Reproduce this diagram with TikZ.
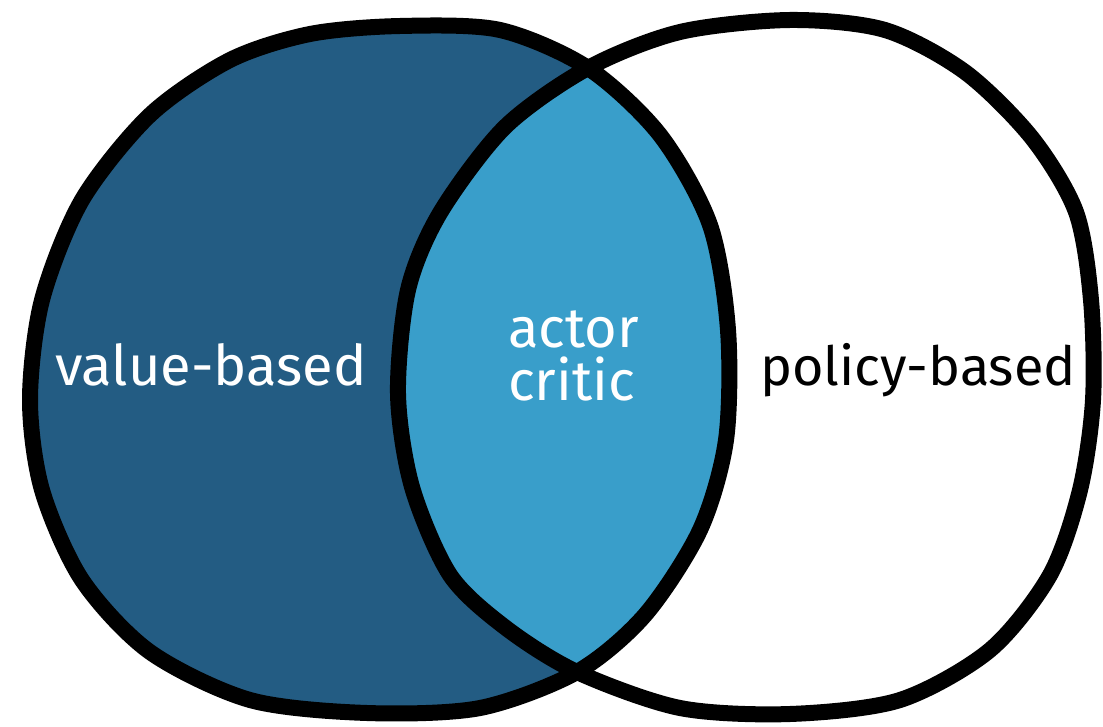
\documentclass[tikz,border=0pt]{standalone}
\usepackage{fontspec}
\setmainfont{Fira Sans}
\definecolor{valueblue}{RGB}{35,92,131}
\definecolor{criticblue}{RGB}{57,158,202}

% hand-drawn outlines, one per set
\newcommand{\valueshape}{plot[smooth cycle] coordinates {(400,26) (500,30)
  (588,68) (660,135) (710,225) (728,330) (726,440) (700,530) (645,615)
  (577,672) (480,708) (367,713) (250,700) (150,652) (82,580) (42,490)
  (30,400) (42,300) (82,200) (150,115) (230,60) (310,34)}}
\newcommand{\policyshape}{plot[smooth cycle] coordinates {(588,68) (680,32)
  (790,20) (885,30) (965,72) (1032,138) (1076,212) (1091,300) (1093,400)
  (1080,490) (1050,575) (990,650) (900,700) (790,714) (680,708) (577,672)
  (506,628) (450,575) (412,487) (398,394) (408,290) (440,213) (505,127)}}

\begin{document}
\begin{tikzpicture}[x=1pt, y=-1pt,
    outline/.style={line width=16pt, line join=round, black},
    setlabel/.style={anchor=base west, inner sep=0pt, font=\fontsize{56}{60}\selectfont}]
  \useasboundingbox (0,0) rectangle (1103,727);
  \fill[valueblue] \valueshape;
  \fill[white] \policyshape;
  \begin{scope}
    \clip \valueshape;
    \fill[criticblue] \policyshape;
  \end{scope}
  \draw[outline] \valueshape;
  \draw[outline] \policyshape;
  \node[setlabel, text=white] (value) at (55,385) {value-based};
  \node[setlabel, text=white] (actor) at (508,348) {actor};
  \node[setlabel, text=white] (critic) at (508,400) {critic};
  \node[setlabel, font=\fontsize{54}{58}\selectfont] (policy) at (760,385) {policy-based};
\end{tikzpicture}
\end{document}
